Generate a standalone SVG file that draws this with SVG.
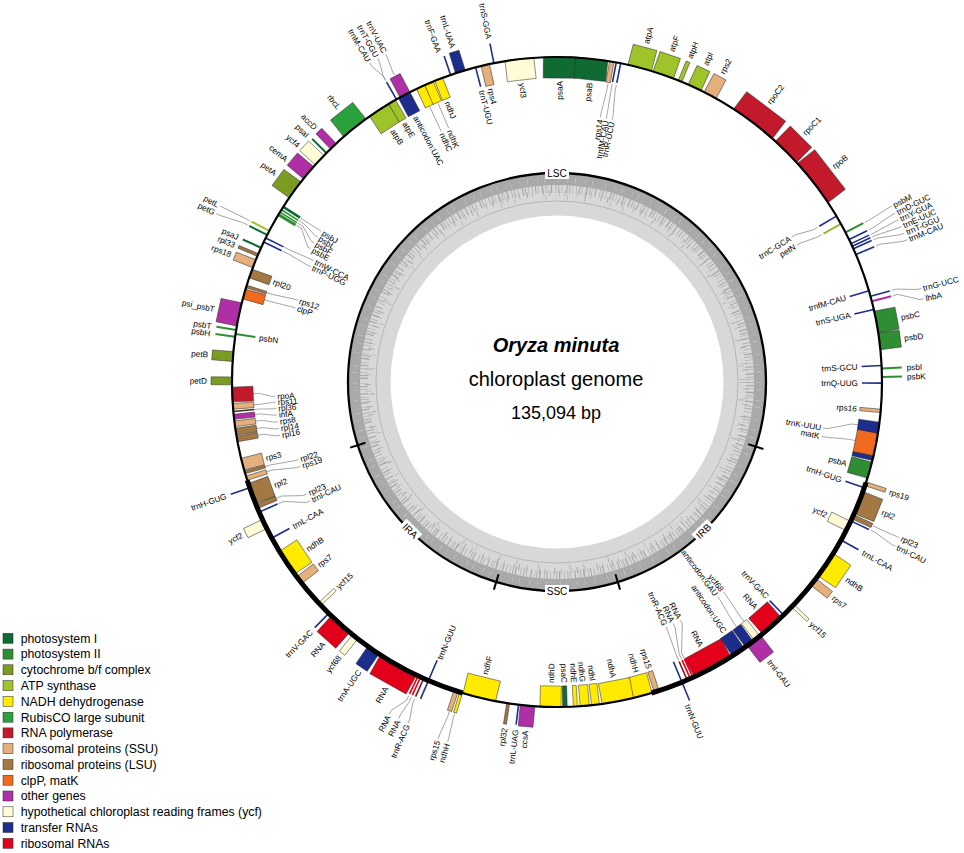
<svg xmlns="http://www.w3.org/2000/svg" width="964" height="853" viewBox="0 0 964 853">
<style>
text{font-family:"Liberation Sans",Arial,Helvetica,sans-serif;fill:#000}
.gl text{font-size:8.2px}
.s{text-anchor:start}.e{text-anchor:end}.m{text-anchor:middle}
.b{stroke:#2b2b2b;stroke-width:.5}
.ps1{fill:#0f6b33}.ps2{fill:#2f8d33}.cyt{fill:#7c9b22}.cytl{fill:#9ab82a}.atp{fill:#9fc42a}.ndh{fill:#ffea00}.rbc{fill:#2aa13b}.rpo{fill:#c2192b}.ssu{fill:#e6b07c}.lsu{fill:#a47843}.clp{fill:#f06a1e}.oth{fill:#b02fa6}.ycf{fill:#fffbd7}.trn{fill:#1c2d8c}.rrn{fill:#e3001b}.dr{fill:#7e1c1c}.dk{fill:#3b2c1c}
.ld{fill:none;stroke:#8a8a8a;stroke-width:.7}
.lg text{font-size:12.3px}
.sp{fill:none;stroke:#a9a9a9}
</style>
<rect width="964" height="853" fill="#fff"/>
<g id="gc-ring" transform="translate(557,382)">
<circle r="208" fill="#a9a9a9"/>
<circle r="197" fill="#d8d8d8"/>
<circle class="sp" r="193" stroke-width="8" stroke-dasharray="0.7 2.5 1.1 1.8 0.6 3.2 1.5 2.1 0.8 1.4 0.5 2.8 1.2 3.5 0.7 1.9 1 2.6 0.6 4 1.3 1.7 0.9 2.3 0.5 3"/>
<circle class="sp" r="189" stroke-width="6" stroke-dasharray="0.6 6 0.9 9 0.5 5 0.8 12 0.6 7 1 4.5 0.5 10"/>
<circle class="sp" r="185" stroke-width="5" stroke-dasharray="0.6 17 0.8 25 0.5 13 0.7 31 0.6 21"/>
<circle r="202" fill="none" stroke="#c6c6c6" stroke-width="5" stroke-dasharray="0.5 7 0.8 10 0.6 6 0.7 13 0.5 9"/>
<circle r="181" fill="none" stroke="#a0a0a0" stroke-width=".6"/>
<circle r="166.5" fill="#fff"/>
<circle r="209" fill="none" stroke="#000" stroke-width="2.3"/>
<g stroke="#000" stroke-width="2">
<line x1="0" y1="-201" x2="0" y2="-217" transform="rotate(108)"/>
<line x1="0" y1="-201" x2="0" y2="-217" transform="rotate(163.1)"/>
<line x1="0" y1="-201" x2="0" y2="-217" transform="rotate(196.9)"/>
<line x1="0" y1="-201" x2="0" y2="-217" transform="rotate(252.4)"/>
</g>
<g font-size="10">
<g transform="translate(0,-209)"><rect x="-12" y="-6" width="24" height="12" fill="#fff"/><text class="m" y="3.6">LSC</text></g>
<g transform="rotate(135.5) translate(0,-209) rotate(180)"><rect x="-11" y="-6" width="22" height="12" fill="#fff"/><text class="m" y="3.6">IRB</text></g>
<g transform="rotate(180) translate(0,-209) rotate(180)"><rect x="-12" y="-6" width="24" height="12" fill="#fff"/><text class="m" y="3.6">SSC</text></g>
<g transform="rotate(224.6) translate(0,-209) rotate(180)"><rect x="-11" y="-6" width="22" height="12" fill="#fff"/><text class="m" y="3.6">IRA</text></g>
</g>
</g>
<g id="title">
<text class="m" x="556" y="352" font-size="20" font-weight="bold" font-style="italic">Oryza minuta</text>
<text class="m" x="556" y="386" font-size="20">chloroplast genome</text>
<text class="m" x="556" y="419" font-size="18">135,094 bp</text>
</g>
<g transform="translate(557,382)">
<g id="connectors" class="ld">
<polyline transform="rotate(330.4)" points="0,-347 0,-352 -5.1,-366 -5.2,-370"/>
<polyline transform="rotate(330.4)" points="0,-347 0,-352 3.8,-366 3.9,-370"/>
<polyline transform="rotate(332.1)" points="0,-347 0,-352 1.9,-366 1.9,-370"/>
<polyline transform="rotate(335.2)" points="0,-303 0,-276"/>
<polyline transform="rotate(336.9)" points="0,-303 0,-276"/>
<polyline transform="rotate(9.7)" points="0,-303 0,-296 -1.9,-272 -1.9,-268"/>
<polyline transform="rotate(10.5)" points="0,-303 0,-296 0.5,-272 0.5,-268"/>
<polyline transform="rotate(11.3)" points="0,-303 0,-296 2.8,-272 2.8,-268"/>
<polyline transform="rotate(62.6)" points="0,-347 0,-351 -2,-374 -2,-378"/>
<polyline transform="rotate(64)" points="0,-347 0,-351 -3.3,-374 -3.3,-378"/>
<polyline transform="rotate(64.8)" points="0,-347 0,-351 -1.3,-374 -1.3,-378"/>
<polyline transform="rotate(65.3)" points="0,-347 0,-351 2.6,-374 2.6,-378"/>
<polyline transform="rotate(65.8)" points="0,-347 0,-351 6.5,-374 6.6,-378"/>
<polyline transform="rotate(66.9)" points="0,-347 0,-351 6.5,-374 6.6,-378"/>
<polyline transform="rotate(59.3)" points="0,-303 0,-298 -4.9,-280 -4.8,-276"/>
<polyline transform="rotate(60.9)" points="0,-303 0,-298 -2.9,-280 -2.9,-276"/>
<polyline transform="rotate(74.7)" points="0,-347 0,-352 5.8,-372 5.9,-376"/>
<polyline transform="rotate(75.6)" points="0,-347 0,-352 10.4,-372 10.5,-376"/>
<polyline transform="rotate(98.1)" points="0,-304 0,-298 8.1,-274 8,-270"/>
<polyline transform="rotate(101.1)" points="0,-304 0,-298 2.4,-274 2.4,-270"/>
<polyline transform="rotate(114.5)" points="0,-347 0,-352 -0.3,-372 -0.3,-376"/>
<polyline transform="rotate(115.3)" points="0,-347 0,-352 3.9,-372 3.9,-376"/>
<polyline transform="rotate(142)" points="0,-304 0,-298 -1.9,-272 -1.9,-268"/>
<polyline transform="rotate(143.75)" points="0,-304 0,-298 -2.6,-272 -2.6,-268"/>
<polyline transform="rotate(155.3)" points="0,-304 0,-298 -12.8,-272 -12.6,-268"/>
<polyline transform="rotate(155.8)" points="0,-304 0,-298 -7.1,-272 -7,-268"/>
<polyline transform="rotate(156.4)" points="0,-304 0,-298 -1.9,-272 -1.9,-268"/>
<polyline transform="rotate(205.3)" points="0,-347 0,-352 9.6,-368 9.7,-372"/>
<polyline transform="rotate(204.8)" points="0,-347 0,-352 2.6,-368 2.6,-372"/>
<polyline transform="rotate(204.2)" points="0,-347 0,-352 -3.9,-368 -3.9,-372"/>
<polyline transform="rotate(198.1)" points="0,-347 0,-352 2,-372 2,-376"/>
<polyline transform="rotate(197.15)" points="0,-347 0,-352 -1.6,-372 -1.6,-376"/>
<polyline transform="rotate(247.5)" points="0,-304 0,-298 -7.8,-278 -7.7,-274"/>
<polyline transform="rotate(246.4)" points="0,-304 0,-298 -10.2,-278 -10,-274"/>
<polyline transform="rotate(253.85)" points="0,-304 0,-298 -2.6,-274 -2.6,-270"/>
<polyline transform="rotate(252.8)" points="0,-304 0,-298 -4.8,-274 -4.7,-270"/>
<polyline transform="rotate(267.8)" points="0,-304 0,-298 -3.5,-285 -3.4,-282"/>
<polyline transform="rotate(265.7)" points="0,-304 0,-298 1,-285 1,-282"/>
<polyline transform="rotate(264.8)" points="0,-304 0,-298 -1,-285 -1,-282"/>
<polyline transform="rotate(263.85)" points="0,-304 0,-298 -2.7,-285 -2.7,-282"/>
<polyline transform="rotate(262.6)" points="0,-304 0,-298 -3.5,-285 -3.4,-282"/>
<polyline transform="rotate(261.2)" points="0,-304 0,-298 -3.5,-285 -3.4,-282"/>
<polyline transform="rotate(259.9)" points="0,-304 0,-298 -4,-285 -3.9,-282"/>
<polyline transform="rotate(287.1)" points="0,-304 0,-298 1.9,-276 1.9,-272"/>
<polyline transform="rotate(285.7)" points="0,-304 0,-298 0.5,-276 0.5,-272"/>
<polyline transform="rotate(296.3)" points="0,-304 0,-298 1,-276 1,-272"/>
<polyline transform="rotate(295.5)" points="0,-304 0,-298 -1.9,-276 -1.9,-272"/>
<polyline transform="rotate(302.6)" points="0,-304 0,-298 0,-283 0,-280"/>
<polyline transform="rotate(302)" points="0,-304 0,-298 -4,-283 -3.9,-280"/>
<polyline transform="rotate(301.5)" points="0,-304 0,-298 -8.4,-283 -8.3,-280"/>
<polyline transform="rotate(301)" points="0,-304 0,-298 -12.8,-283 -12.7,-280"/>
<polyline transform="rotate(297.7)" points="0,-347 0,-352 -0.7,-376 -0.7,-380"/>
<polyline transform="rotate(296.9)" points="0,-347 0,-352 -3.9,-376 -4,-380"/>
</g>
<g id="genes" class="gl">
<g id="g-psaA"><rect class="ps1 b" x="-16.3" y="-325" width="32.6" height="21" transform="rotate(0.475)"/><text class="e" transform="rotate(-89.5) translate(301,3)">psaA</text></g>
<g id="g-psaB"><rect class="ps1 b" x="-16" y="-325" width="32" height="21" transform="rotate(6.175)"/><text class="e" transform="rotate(-83.8) translate(301,3)">psaB</text></g>
<g id="g-rps14"><rect class="ssu b" x="-2.25" y="-325" width="4.5" height="21" transform="rotate(9.7)"/><text class="e" transform="rotate(-80.7) translate(266,3)">rps14</text></g>
<g id="g-trnfM-CAU-1"><rect class="trn" x="-0.8" y="-325" width="1.6" height="20" transform="rotate(10.5)"/><text class="e" transform="rotate(-79.4) translate(266,3)">trnfM-CAU</text></g>
<g id="g-trnR-UCU"><rect class="trn" x="-0.8" y="-325" width="1.6" height="20" transform="rotate(11.3)"/><text class="e" transform="rotate(-78.1) translate(266,3)">trnR-UCU</text></g>
<g id="g-atpA"><rect class="atp b" x="-12.2" y="-346" width="24.4" height="21" transform="rotate(14.75)"/><text class="s" transform="rotate(-75.25) translate(350,3)">atpA</text></g>
<g id="g-atpF"><rect class="atp b" x="-10.8" y="-346" width="21.6" height="21" transform="rotate(19.1)"/><text class="s" transform="rotate(-70.9) translate(350,3)">atpF</text></g>
<g id="g-atpH"><rect class="atp b" x="-2" y="-346" width="4" height="21" transform="rotate(22.25)"/><text class="s" transform="rotate(-67.75) translate(350,3)">atpH</text></g>
<g id="g-atpI"><rect class="atp b" x="-7.1" y="-346" width="14.2" height="21" transform="rotate(25.05)"/><text class="s" transform="rotate(-64.95) translate(350,3)">atpI</text></g>
<g id="g-rps2"><rect class="ssu b" x="-6.8" y="-346" width="13.6" height="21" transform="rotate(28.1)"/><text class="s" transform="rotate(-61.9) translate(350,3)">rps2</text></g>
<g id="g-rpoC2"><rect class="rpo b" x="-24.4" y="-346" width="48.8" height="21" transform="rotate(37.2)"/><text class="s" transform="rotate(-52.8) translate(350,3)">rpoC2</text></g>
<g id="g-rpoC1"><rect class="rpo b" x="-15.05" y="-346" width="30.1" height="21" transform="rotate(44.85)"/><text class="s" transform="rotate(-45.15) translate(350,3)">rpoC1</text></g>
<g id="g-rpoB"><rect class="rpo b" x="-24.95" y="-346" width="49.9" height="21" transform="rotate(52.1)"/><text class="s" transform="rotate(-37.9) translate(350,3)">rpoB</text></g>
<g id="g-trnC-GCA"><rect class="trn" x="-0.8" y="-325" width="1.6" height="20" transform="rotate(59.3)"/><text class="e" transform="rotate(-31.7) translate(274,3)">trnC-GCA</text></g>
<g id="g-petN"><rect class="cytl" x="-1" y="-325" width="2" height="20" transform="rotate(60.9)"/><text class="e" transform="rotate(-29.7) translate(274,3)">petN</text></g>
<g id="g-psbM"><rect class="ps2" x="-1" y="-345" width="2" height="20" transform="rotate(62.6)"/><text class="s" transform="rotate(-27.7) translate(380,3)">psbM</text></g>
<g id="g-trnD-GUC"><rect class="trn" x="-0.8" y="-345" width="1.6" height="20" transform="rotate(64)"/><text class="s" transform="rotate(-26.5) translate(380,3)">trnD-GUC</text></g>
<g id="g-trnY-GUA"><rect class="trn" x="-0.8" y="-345" width="1.6" height="20" transform="rotate(64.8)"/><text class="s" transform="rotate(-25.4) translate(380,3)">trnY-GUA</text></g>
<g id="g-trnE-UUC"><rect class="trn" x="-0.8" y="-345" width="1.6" height="20" transform="rotate(65.3)"/><text class="s" transform="rotate(-24.3) translate(380,3)">trnE-UUC</text></g>
<g id="g-trnT-GGU-1"><rect class="trn" x="-0.8" y="-345" width="1.6" height="20" transform="rotate(65.8)"/><text class="s" transform="rotate(-23.2) translate(380,3)">trnT-GGU</text></g>
<g id="g-trnM-CAU-1"><rect class="trn" x="-0.8" y="-345" width="1.6" height="20" transform="rotate(66.9)"/><text class="s" transform="rotate(-22.1) translate(380,3)">trnM-CAU</text></g>
<g id="g-trnfM-CAU-2"><rect class="trn" x="-0.8" y="-325" width="1.6" height="20" transform="rotate(73.7)"/><text class="e" transform="rotate(-16.3) translate(301,3)">trnfM-CAU</text></g>
<g id="g-trnG-UCC"><rect class="trn" x="-0.8" y="-345" width="1.6" height="20" transform="rotate(74.7)"/><text class="s" transform="rotate(-14.4) translate(378,3)">trnG-UCC</text></g>
<g id="g-lhbA"><rect class="oth" x="-1" y="-345" width="2" height="20" transform="rotate(75.6)"/><text class="s" transform="rotate(-12.8) translate(378,3)">lhbA</text></g>
<g id="g-trnS-UGA"><rect class="trn" x="-0.8" y="-325" width="1.6" height="20" transform="rotate(77.1)"/><text class="e" transform="rotate(-12.9) translate(301,3)">trnS-UGA</text></g>
<g id="g-psbC"><rect class="ps2 b" x="-11.05" y="-346" width="22.1" height="21" transform="rotate(79.35)"/><text class="s" transform="rotate(-10.65) translate(350,3)">psbC</text></g>
<g id="g-psbD"><rect class="ps2 b" x="-8.5" y="-346" width="17" height="21" transform="rotate(82.8)"/><text class="s" transform="rotate(-7.2) translate(350,3)">psbD</text></g>
<g id="g-trnS-GCU"><rect class="trn" x="-0.8" y="-325" width="1.6" height="20" transform="rotate(87.1)"/><text class="e" transform="rotate(-2.9) translate(301,3)">trnS-GCU</text></g>
<g id="g-psbI"><rect class="ps2" x="-1" y="-345" width="2" height="20" transform="rotate(87.6)"/><text class="s" transform="rotate(-2.4) translate(350,3)">psbI</text></g>
<g id="g-psbK"><rect class="ps2" x="-1" y="-345" width="2" height="20" transform="rotate(89.1)"/><text class="s" transform="rotate(-0.9) translate(350,3)">psbK</text></g>
<g id="g-trnQ-UUG"><rect class="trn" x="-0.8" y="-325" width="1.6" height="20" transform="rotate(90.2)"/><text class="e" transform="rotate(0.2) translate(301,3)">trnQ-UUG</text></g>
<g id="g-rps16"><rect class="ssu b" x="-1.7" y="-325" width="3.4" height="21" transform="rotate(95.1)"/><text class="e" transform="rotate(5.1) translate(301,3)">rps16</text></g>
<g id="g-trnK-UUU"><rect class="trn b" x="-5.65" y="-325" width="11.3" height="21" transform="rotate(98.1)"/><rect class="trn b" x="-2.55" y="-325" width="5.1" height="21" transform="rotate(103.55)"/><text class="e" transform="rotate(9.8) translate(268,3)">trnK-UUU</text></g>
<g id="g-matK"><rect class="clp b" x="-11.35" y="-325" width="22.7" height="21" transform="rotate(101.1)"/><text class="e" transform="rotate(11.6) translate(268,3)">matK</text></g>
<g id="g-psbA"><rect class="ps2 b" x="-8.2" y="-325" width="16.4" height="21" transform="rotate(105.75)"/><text class="e" transform="rotate(15.75) translate(301,3)">psbA</text></g>
<g id="g-rps19-B"><rect class="ssu b" x="-2" y="-346" width="4" height="21" transform="rotate(108.25)"/><text class="s" transform="rotate(18.25) translate(350,3)">rps19</text></g>
<g id="g-trnH-GUG-B"><rect class="trn" x="-0.8" y="-325" width="1.6" height="20" transform="rotate(109)"/><text class="e" transform="rotate(19) translate(301,3)">trnH-GUG</text></g>
<g id="g-rpl2-B"><rect class="lsu b" x="-11.9" y="-346" width="23.8" height="21" transform="rotate(111.8)"/><text class="s" transform="rotate(21.8) translate(350,3)">rpl2</text></g>
<g id="g-rpl23-B"><rect class="lsu b" x="-2.25" y="-346" width="4.5" height="21" transform="rotate(114.5)"/><text class="s" transform="rotate(24.4) translate(378,3)">rpl23</text></g>
<g id="g-trnI-CAU-B"><rect class="trn" x="-0.8" y="-345" width="1.6" height="20" transform="rotate(115.3)"/><text class="s" transform="rotate(25.9) translate(378,3)">trnI-CAU</text></g>
<g id="g-ycf2-B"><rect class="ycf b" x="-5.1" y="-325" width="10.2" height="21" transform="rotate(116.3)"/><text class="e" transform="rotate(26.3) translate(301,3)">ycf2</text></g>
<g id="g-trnL-CAA-B"><rect class="trn" x="-0.8" y="-345" width="1.6" height="20" transform="rotate(119.1)"/><text class="s" transform="rotate(29.1) translate(350,3)">trnL-CAA</text></g>
<g id="g-ndhB-B"><rect class="ndh b" x="-13.6" y="-346" width="27.2" height="21" transform="rotate(124.2)"/><text class="s" transform="rotate(34.2) translate(350,3)">ndhB</text></g>
<g id="g-rps7-B"><rect class="ssu b" x="-4.25" y="-346" width="8.5" height="21" transform="rotate(127.95)"/><text class="s" transform="rotate(37.95) translate(350,3)">rps7</text></g>
<g id="g-ycf15-B"><rect class="ycf b" x="-1.7" y="-346" width="3.4" height="21" transform="rotate(133.5)"/><text class="s" transform="rotate(43.5) translate(350,3)">ycf15</text></g>
<g id="g-trnV-GAC-B"><rect class="trn" x="-0.8" y="-325" width="1.6" height="20" transform="rotate(135.8)"/><text class="e" transform="rotate(45.6) translate(301,3)">trnV-GAC</text></g>
<g id="g-rrn16-B"><rect class="rrn b" x="-12.5" y="-325" width="25" height="21" transform="rotate(138.6)"/><text class="e" transform="rotate(48.6) translate(301,3)">RNA</text></g>
<g id="g-ycf68-B"><rect class="ycf b" x="-3.4" y="-325" width="6.8" height="21" transform="rotate(142)"/><text class="e" transform="rotate(51.6) translate(266,3)">ycf68</text></g>
<g id="g-anticodon-GAU"><rect class="trn b" x="-4.8" y="-325" width="9.6" height="21" transform="rotate(143.75)"/><text class="e" transform="rotate(53.2) translate(266,3)">anticodon:GAU</text></g>
<g id="g-anticodon-UGC"><rect class="trn b" x="-7.1" y="-325" width="14.2" height="21" transform="rotate(146.15)"/><text class="e" transform="rotate(56.15) translate(301,3)">anticodon:UGC</text></g>
<g id="g-trnI-GAU"><rect class="oth b" x="-8.5" y="-346" width="17" height="21" transform="rotate(142.7)"/><text class="s" transform="rotate(52.7) translate(350,3)">trnI-GAU</text></g>
<g id="g-rrn23-B"><rect class="rrn b" x="-20.7" y="-325" width="41.4" height="21" transform="rotate(151.35)"/><text class="e" transform="rotate(61.35) translate(301,3)">RNA</text></g>
<g id="g-rrn45-B"><rect class="rrn" x="-0.8" y="-325" width="1.6" height="20" transform="rotate(155.3)"/><text class="e" transform="rotate(62.6) translate(266,3)">RNA</text></g>
<g id="g-rrn5-B"><rect class="rrn" x="-0.8" y="-325" width="1.6" height="20" transform="rotate(155.8)"/><text class="e" transform="rotate(64.3) translate(266,3)">RNA</text></g>
<g id="g-trnR-ACG-B"><rect class="dr" x="-0.8" y="-325" width="1.6" height="20" transform="rotate(156.4)"/><text class="e" transform="rotate(66) translate(266,3)">trnR-ACG</text></g>
<g id="g-trnN-GUU-B"><rect class="trn" x="-0.8" y="-345" width="1.6" height="42" transform="rotate(157.4)"/><text class="s" transform="rotate(68) translate(348,3)">trnN-GUU</text></g>
<g id="g-rps15-B"><rect class="ssu b" x="-2.55" y="-325" width="5.1" height="21" transform="rotate(162.15)"/><text class="e" transform="rotate(72.15) translate(301,3)">rps15</text></g>
<g id="g-ndhH-S"><rect class="ndh b" x="-9.65" y="-325" width="19.3" height="21" transform="rotate(164.7)"/><text class="e" transform="rotate(74.7) translate(301,3)">ndhH</text></g>
<g id="g-ndhA"><rect class="ndh b" x="-15.9" y="-325" width="31.8" height="21" transform="rotate(169.2)"/><text class="e" transform="rotate(79.2) translate(301,3)">ndhA</text></g>
<g id="g-ndhI"><rect class="ndh b" x="-3.95" y="-325" width="7.9" height="21" transform="rotate(173.2)"/><text class="e" transform="rotate(83.2) translate(301,3)">ndhI</text></g>
<g id="g-ndhG"><rect class="ndh b" x="-4.55" y="-325" width="9.1" height="21" transform="rotate(175.1)"/><text class="e" transform="rotate(85.1) translate(301,3)">ndhG</text></g>
<g id="g-ndhE"><rect class="ndh b" x="-2" y="-325" width="4" height="21" transform="rotate(176.75)"/><text class="e" transform="rotate(86.75) translate(301,3)">ndhE</text></g>
<g id="g-psaC"><rect class="ps1 b" x="-2.25" y="-325" width="4.5" height="21" transform="rotate(178.6)"/><text class="e" transform="rotate(88.6) translate(301,3)">psaC</text></g>
<g id="g-ndhD"><rect class="ndh b" x="-10.5" y="-325" width="21" height="21" transform="rotate(181.15)"/><text class="s" transform="rotate(271.15) translate(-301,3)">ndhD</text></g>
<g id="g-ccsA"><rect class="oth b" x="-7.35" y="-346" width="14.7" height="21" transform="rotate(185.2)"/><text class="e" transform="rotate(275.2) translate(-350,3)">ccsA</text></g>
<g id="g-trnL-UAG"><rect class="trn" x="-0.8" y="-345" width="1.6" height="20" transform="rotate(186.8)"/><text class="e" transform="rotate(276.8) translate(-350,3)">trnL-UAG</text></g>
<g id="g-rpl32"><rect class="lsu b" x="-1.5" y="-346" width="3" height="21" transform="rotate(188.65)"/><text class="e" transform="rotate(278.65) translate(-350,3)">rpl32</text></g>
<g id="g-ndhF"><rect class="ndh b" x="-16.75" y="-325" width="33.5" height="21" transform="rotate(193.85)"/><text class="s" transform="rotate(283.85) translate(-301,3)">ndhF</text></g>
<g id="g-ndhH-A"><rect class="ndh b" x="-1.5" y="-346" width="3" height="21" transform="rotate(197.15)"/><text class="e" transform="rotate(286.9) translate(-378,3)">ndhH</text></g>
<g id="g-rps15-A"><rect class="ssu b" x="-2.25" y="-346" width="4.5" height="21" transform="rotate(198.1)"/><text class="e" transform="rotate(288.4) translate(-378,3)">rps15</text></g>
<g id="g-trnN-GUU-A"><rect class="trn" x="-0.8" y="-345" width="1.6" height="42" transform="rotate(203.3)"/><text class="s" transform="rotate(293) translate(-301,3)">trnN-GUU</text></g>
<g id="g-trnR-ACG-A"><rect class="dr" x="-0.8" y="-345" width="1.6" height="20" transform="rotate(204.2)"/><text class="e" transform="rotate(293.6) translate(-374,3)">trnR-ACG</text></g>
<g id="g-rrn5-A"><rect class="rrn" x="-0.8" y="-345" width="1.6" height="20" transform="rotate(204.8)"/><text class="e" transform="rotate(295.2) translate(-374,3)">RNA</text></g>
<g id="g-rrn45-A"><rect class="rrn" x="-0.8" y="-345" width="1.6" height="20" transform="rotate(205.3)"/><text class="e" transform="rotate(296.8) translate(-374,3)">RNA</text></g>
<g id="g-rrn23-A"><rect class="rrn b" x="-20.7" y="-346" width="41.4" height="21" transform="rotate(209.25)"/><text class="e" transform="rotate(299.25) translate(-350,3)">RNA</text></g>
<g id="g-trnA-UGC"><rect class="trn b" x="-6.8" y="-346" width="13.6" height="21" transform="rotate(214.4)"/><text class="e" transform="rotate(304.4) translate(-350,3)">trnA-UGC</text></g>
<g id="g-ycf68-A"><rect class="ycf b" x="-3.4" y="-346" width="6.8" height="21" transform="rotate(218.4)"/><text class="e" transform="rotate(308.4) translate(-350,3)">ycf68</text></g>
<g id="g-rrn16-A"><rect class="rrn b" x="-12.5" y="-346" width="25" height="21" transform="rotate(221.8)"/><text class="e" transform="rotate(311.8) translate(-350,3)">RNA</text></g>
<g id="g-trnV-GAC-A"><rect class="trn" x="-0.8" y="-345" width="1.6" height="20" transform="rotate(224.6)"/><text class="e" transform="rotate(314.6) translate(-350,3)">trnV-GAC</text></g>
<g id="g-ycf15-A"><rect class="ycf b" x="-1.7" y="-325" width="3.4" height="21" transform="rotate(226.9)"/><text class="s" transform="rotate(316.9) translate(-301,3)">ycf15</text></g>
<g id="g-rps7-A"><rect class="ssu b" x="-4.25" y="-325" width="8.5" height="21" transform="rotate(232.45)"/><text class="s" transform="rotate(322.45) translate(-301,3)">rps7</text></g>
<g id="g-ndhB-A"><rect class="ndh b" x="-13.6" y="-325" width="27.2" height="21" transform="rotate(236.2)"/><text class="s" transform="rotate(326.2) translate(-301,3)">ndhB</text></g>
<g id="g-trnL-CAA-A"><rect class="trn" x="-0.8" y="-325" width="1.6" height="20" transform="rotate(241.3)"/><text class="s" transform="rotate(331.3) translate(-301,3)">trnL-CAA</text></g>
<g id="g-ycf2-A"><rect class="ycf b" x="-5.1" y="-346" width="10.2" height="21" transform="rotate(244.1)"/><text class="e" transform="rotate(334.1) translate(-350,3)">ycf2</text></g>
<g id="g-trnI-CAU-A"><rect class="trn" x="-0.8" y="-325" width="1.6" height="20" transform="rotate(246.4)"/><text class="s" transform="rotate(334.3) translate(-272,3)">trnI-CAU</text></g>
<g id="g-rpl23-A"><rect class="lsu b" x="-2.25" y="-325" width="4.5" height="21" transform="rotate(247.5)"/><text class="s" transform="rotate(335.9) translate(-272,3)">rpl23</text></g>
<g id="g-rpl2-A"><rect class="lsu b" x="-10.5" y="-325" width="21" height="21" transform="rotate(249.95)"/><text class="s" transform="rotate(339.95) translate(-301,3)">rpl2</text></g>
<g id="g-trnH-GUG-A"><rect class="trn" x="-0.8" y="-345" width="1.6" height="20" transform="rotate(251)"/><text class="e" transform="rotate(341) translate(-350,3)">trnH-GUG</text></g>
<g id="g-rps19-A"><rect class="ssu b" x="-2.25" y="-325" width="4.5" height="21" transform="rotate(252.8)"/><text class="s" transform="rotate(341.8) translate(-268,3)">rps19</text></g>
<g id="g-rpl22"><rect class="lsu b" x="-1.4" y="-325" width="2.8" height="21" transform="rotate(253.85)"/><text class="s" transform="rotate(343.3) translate(-268,3)">rpl22</text></g>
<g id="g-rps3"><rect class="ssu b" x="-6" y="-325" width="12" height="21" transform="rotate(255.35)"/><text class="s" transform="rotate(345.35) translate(-301,3)">rps3</text></g>
<g id="g-rpl16"><rect class="lsu b" x="-2.85" y="-325" width="5.7" height="21" transform="rotate(259.9)"/><text class="s" transform="rotate(349.1) translate(-280,3)">rpl16</text></g>
<g id="g-rpl14"><rect class="lsu b" x="-3.4" y="-325" width="6.8" height="21" transform="rotate(261.2)"/><text class="s" transform="rotate(350.5) translate(-280,3)">rpl14</text></g>
<g id="g-rps8"><rect class="ssu b" x="-2.85" y="-325" width="5.7" height="21" transform="rotate(262.6)"/><text class="s" transform="rotate(351.9) translate(-280,3)">rps8</text></g>
<g id="g-infA"><rect class="oth b" x="-2.55" y="-325" width="5.1" height="21" transform="rotate(263.85)"/><text class="s" transform="rotate(353.3) translate(-280,3)">infA</text></g>
<g id="g-rpl36"><rect class="dk" x="-0.75" y="-325" width="1.5" height="21" transform="rotate(264.8)"/><text class="s" transform="rotate(354.6) translate(-280,3)">rpl36</text></g>
<g id="g-rps11"><rect class="ssu b" x="-2.85" y="-325" width="5.7" height="21" transform="rotate(265.7)"/><text class="s" transform="rotate(355.9) translate(-280,3)">rps11</text></g>
<g id="g-rpoA"><rect class="rpo b" x="-7.35" y="-325" width="14.7" height="21" transform="rotate(267.8)"/><text class="s" transform="rotate(357.1) translate(-280,3)">rpoA</text></g>
<g id="g-petD"><rect class="cyt b" x="-3.95" y="-346" width="7.9" height="21" transform="rotate(270.2)"/><text class="e" transform="rotate(0.2) translate(-350,3)">petD</text></g>
<g id="g-petB"><rect class="cyt b" x="-4.95" y="-346" width="9.9" height="21" transform="rotate(274.5)"/><text class="e" transform="rotate(4.5) translate(-350,3)">petB</text></g>
<g id="g-psbH"><rect class="ps2" x="-1" y="-345" width="2" height="20" transform="rotate(278)"/><text class="e" transform="rotate(8) translate(-350,3)">psbH</text></g>
<g id="g-psbN"><rect class="ps2" x="-1" y="-325" width="2" height="20" transform="rotate(278.5)"/><text class="s" transform="rotate(8.5) translate(-301,3)">psbN</text></g>
<g id="g-psbT"><rect class="ps2" x="-1" y="-345" width="2" height="20" transform="rotate(279.2)"/><text class="e" transform="rotate(9.2) translate(-350,3)">psbT</text></g>
<g id="g-psi_psbT"><rect class="oth b" x="-11.9" y="-346" width="23.8" height="21" transform="rotate(282)"/><text class="e" transform="rotate(12) translate(-350,3)">psi_psbT</text></g>
<g id="g-clpP"><rect class="clp b" x="-5.1" y="-325" width="10.2" height="21" transform="rotate(285.7)"/><text class="s" transform="rotate(15.8) translate(-270,3)">clpP</text></g>
<g id="g-rps12"><rect class="lsu b" x="-1.25" y="-325" width="2.5" height="21" transform="rotate(287.1)"/><text class="s" transform="rotate(17.5) translate(-270,3)">rps12</text></g>
<g id="g-rpl20"><rect class="lsu b" x="-4.5" y="-325" width="9" height="21" transform="rotate(289.5)"/><text class="s" transform="rotate(19.5) translate(-301,3)">rpl20</text></g>
<g id="g-rps18"><rect class="ssu b" x="-4.25" y="-346" width="8.5" height="21" transform="rotate(291.35)"/><text class="e" transform="rotate(21.35) translate(-350,3)">rps18</text></g>
<g id="g-rpl33"><rect class="lsu b" x="-1.5" y="-346" width="3" height="21" transform="rotate(293)"/><text class="e" transform="rotate(23) translate(-350,3)">rpl33</text></g>
<g id="g-psaJ"><rect class="ps1" x="-1" y="-345" width="2" height="20" transform="rotate(294.4)"/><text class="e" transform="rotate(24.4) translate(-350,3)">psaJ</text></g>
<g id="g-trnP-UGG"><rect class="trn" x="-0.8" y="-325" width="1.6" height="20" transform="rotate(295.5)"/><text class="s" transform="rotate(25.1) translate(-270,3)">trnP-UGG</text></g>
<g id="g-trnW-CCA"><rect class="trn" x="-0.8" y="-325" width="1.6" height="20" transform="rotate(296.3)"/><text class="s" transform="rotate(26.5) translate(-270,3)">trnW-CCA</text></g>
<g id="g-petG"><rect class="ps1" x="-1" y="-345" width="2" height="20" transform="rotate(296.9)"/><text class="e" transform="rotate(26.3) translate(-382,3)">petG</text></g>
<g id="g-petL"><rect class="atp" x="-1" y="-345" width="2" height="20" transform="rotate(297.7)"/><text class="e" transform="rotate(27.6) translate(-382,3)">petL</text></g>
<g id="g-psbE"><rect class="ps2" x="-1.5" y="-325" width="3" height="20" transform="rotate(301)"/><text class="s" transform="rotate(28.4) translate(-278,3)">psbE</text></g>
<g id="g-psbF"><rect class="ps2" x="-0.8" y="-325" width="1.6" height="20" transform="rotate(301.5)"/><text class="s" transform="rotate(29.8) translate(-278,3)">psbF</text></g>
<g id="g-psbL"><rect class="ps2" x="-0.8" y="-325" width="1.6" height="20" transform="rotate(302)"/><text class="s" transform="rotate(31.2) translate(-278,3)">psbL</text></g>
<g id="g-psbJ"><rect class="ps1" x="-1.25" y="-325" width="2.5" height="20" transform="rotate(302.6)"/><text class="s" transform="rotate(32.6) translate(-278,3)">psbJ</text></g>
<g id="g-petA"><rect class="cyt b" x="-9.95" y="-346" width="19.9" height="21" transform="rotate(306.25)"/><text class="e" transform="rotate(36.5) translate(-350,3)">petA</text></g>
<g id="g-cemA"><rect class="oth b" x="-7.95" y="-346" width="15.9" height="21" transform="rotate(310.1)"/><text class="e" transform="rotate(39.4) translate(-350,3)">cemA</text></g>
<g id="g-ycf4"><rect class="ycf b" x="-6.5" y="-346" width="13" height="21" transform="rotate(313.05)"/><text class="e" transform="rotate(42.4) translate(-350,3)">ycf4</text></g>
<g id="g-psaI"><rect class="ps1" x="-1" y="-345" width="2" height="20" transform="rotate(314.8)"/><text class="e" transform="rotate(44.6) translate(-350,3)">psaI</text></g>
<g id="g-accD"><rect class="oth b" x="-4" y="-346" width="8" height="21" transform="rotate(316.5)"/><text class="e" transform="rotate(46.4) translate(-350,3)">accD</text></g>
<g id="g-rbcL"><rect class="rbc b" x="-14.2" y="-346" width="28.4" height="21" transform="rotate(321.5)"/><text class="e" transform="rotate(51.5) translate(-350,3)">rbcL</text></g>
<g id="g-atpB"><rect class="atp b" x="-11.35" y="-325" width="22.7" height="21" transform="rotate(326.8)"/><text class="s" transform="rotate(56.9) translate(-301,3)">atpB</text></g>
<g id="g-atpE"><rect class="atp b" x="-3.95" y="-325" width="7.9" height="21" transform="rotate(329.5)"/><text class="s" transform="rotate(59.6) translate(-301,3)">atpE</text></g>
<g id="g-trnM-CAU-2"><rect class="trn" x="-0.8" y="-345" width="1.6" height="20" transform="rotate(330.4)"/><text class="e" transform="rotate(59.6) translate(-372,3)">trnM-CAU</text></g>
<g id="g-trnT-GGU-2"><text class="e" transform="rotate(61) translate(-372,3)">trnT-GGU</text></g>
<g id="g-trnV-UAC"><rect class="oth b" x="-5.65" y="-346" width="11.3" height="21" transform="rotate(332.1)"/><text class="e" transform="rotate(62.4) translate(-372,3)">trnV-UAC</text></g>
<g id="g-anticodon-UAC"><rect class="trn b" x="-6.5" y="-325" width="13" height="21" transform="rotate(331.95)"/><text class="s" transform="rotate(62) translate(-301,3)">anticodon:UAC</text></g>
<g id="g-ndhC"><rect class="ndh b" x="-4.55" y="-325" width="9.1" height="21" transform="rotate(335.2)"/><text class="s" transform="rotate(65.2) translate(-274,3)">ndhC</text></g>
<g id="g-ndhK"><rect class="ndh b" x="-4.55" y="-325" width="9.1" height="21" transform="rotate(336.8)"/><text class="s" transform="rotate(66.9) translate(-274,3)">ndhK</text></g>
<g id="g-ndhJ"><rect class="ndh b" x="-4.25" y="-325" width="8.5" height="21" transform="rotate(338.65)"/><text class="s" transform="rotate(68.65) translate(-301,3)">ndhJ</text></g>
<g id="g-trnF-GAA"><rect class="trn" x="-0.8" y="-345" width="1.6" height="20" transform="rotate(340.9)"/><text class="e" transform="rotate(70.3) translate(-350,3)">trnF-GAA</text></g>
<g id="g-trnL-UAA"><rect class="trn b" x="-5.1" y="-346" width="10.2" height="21" transform="rotate(342.7)"/><text class="e" transform="rotate(72.7) translate(-350,3)">trnL-UAA</text></g>
<g id="g-trnT-UGU"><rect class="trn" x="-0.8" y="-325" width="1.6" height="20" transform="rotate(345.5)"/><text class="s" transform="rotate(75.5) translate(-301,3)">trnT-UGU</text></g>
<g id="g-rps4"><rect class="ssu b" x="-4.25" y="-325" width="8.5" height="21" transform="rotate(347.25)"/><text class="s" transform="rotate(77.25) translate(-301,3)">rps4</text></g>
<g id="g-trnS-GGA"><rect class="trn" x="-0.8" y="-345" width="1.6" height="20" transform="rotate(348.8)"/><text class="e" transform="rotate(78.8) translate(-350,3)">trnS-GGA</text></g>
<g id="g-ycf3"><rect class="ycf b" x="-14.45" y="-325" width="28.9" height="21" transform="rotate(353.35)"/><text class="s" transform="rotate(83.35) translate(-301,3)">ycf3</text></g>
</g>
<g id="genome-circle" fill="none" stroke="#000">
<circle r="325" stroke-width="2.2"/>
<path d="M309.1,100.4 A325,325 0 0 1 94.5,311" stroke-width="5"/>
<path d="M-94.5,311 A325,325 0 0 1 -309.8,98.3" stroke-width="5"/>
</g>
</g>
<g id="legend" class="lg">
<rect class="ps1 b" x="3" y="633.3" width="10" height="10"/><text x="20.7" y="642.6">photosystem I</text>
<rect class="ps2 b" x="3" y="649.1" width="10" height="10"/><text x="20.7" y="658.4">photosystem II</text>
<rect class="cyt b" x="3" y="664.8" width="10" height="10"/><text x="20.7" y="674.1">cytochrome b/f complex</text>
<rect class="atp b" x="3" y="680.6" width="10" height="10"/><text x="20.7" y="689.9">ATP synthase</text>
<rect class="ndh b" x="3" y="696.4" width="10" height="10"/><text x="20.7" y="705.7">NADH dehydrogenase</text>
<rect class="rbc b" x="3" y="712.2" width="10" height="10"/><text x="20.7" y="721.5">RubisCO large subunit</text>
<rect class="rpo b" x="3" y="727.9" width="10" height="10"/><text x="20.7" y="737.2">RNA polymerase</text>
<rect class="ssu b" x="3" y="743.7" width="10" height="10"/><text x="20.7" y="753">ribosomal proteins (SSU)</text>
<rect class="lsu b" x="3" y="759.5" width="10" height="10"/><text x="20.7" y="768.8">ribosomal proteins (LSU)</text>
<rect class="clp b" x="3" y="775.2" width="10" height="10"/><text x="20.7" y="784.5">clpP, matK</text>
<rect class="oth b" x="3" y="791" width="10" height="10"/><text x="20.7" y="800.3">other genes</text>
<rect class="ycf b" x="3" y="806.8" width="10" height="10"/><text x="20.7" y="816.1">hypothetical chloroplast reading frames (ycf)</text>
<rect class="trn b" x="3" y="822.5" width="10" height="10"/><text x="20.7" y="831.8">transfer RNAs</text>
<rect class="rrn b" x="3" y="838.3" width="10" height="10"/><text x="20.7" y="847.6">ribosomal RNAs</text>
</g>
</svg>
